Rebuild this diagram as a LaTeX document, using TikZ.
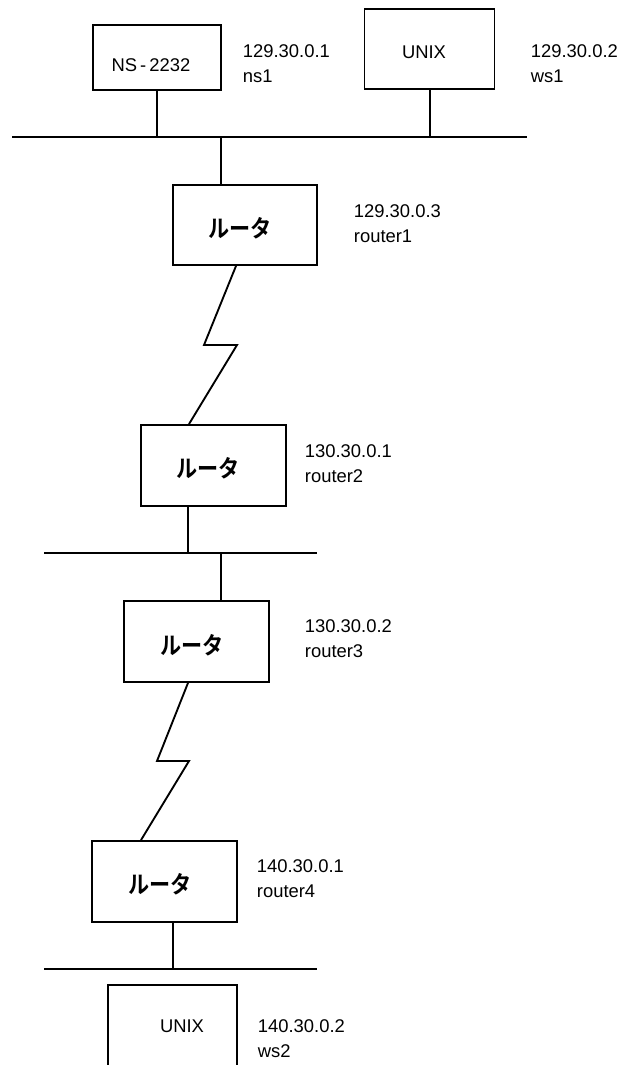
\documentclass[tikz,border=0pt]{standalone}
\usepackage{fontspec}
\setmainfont{Liberation Sans}
\newfontfamily\jpfont{Noto Sans CJK JP Bold}
\newcommand\pxu{0.75pt}
\newcommand\routerlabel{\scalebox{0.88}[1]{ルータ}}
\begin{document}
\begin{tikzpicture}[x=0.75pt,y=-0.75pt,line width=1.4pt,line join=miter]
\tikzset{
  hostbox/.style={draw,rectangle,inner sep=0pt},
  rtext/.style={font=\jpfont\fontsize{18}{18}\selectfont,inner sep=0pt},
  htext/.style={font=\fontsize{13.8}{16}\selectfont,inner sep=0pt},
  % two-line address label, placed by the baseline of its second line
  addr/.style={font=\fontsize{13.8}{18.75}\selectfont,align=left,anchor=base west,inner sep=0pt},
}
\useasboundingbox (0,0) rectangle (619,1065);

% ---- top segment: name server and workstation
\node[hostbox,minimum width=128*\pxu,minimum height=65*\pxu] (ns) at (157,57.5) {};
\node[htext] (nst) at (151,65) {NS\,-\,2232};
\node[addr] (nsa) at (242,82) {129.30.0.1\\ns1};
\node[hostbox,minimum width=130*\pxu,minimum height=80*\pxu] (ws1) at (429.5,49) {};
\node[htext] (ws1t) at (424,52) {UNIX};
\node[addr] (ws1a) at (530,82) {129.30.0.2\\ws1};
\coordinate (b1w) at (12,137);
\coordinate (b1e) at (527,137);
\draw (b1w) -- (b1e);
\coordinate (s0a) at (157,137);
\coordinate (s0b) at (430,137);
\draw (s0a |- ns.south) -- (s0a);
\draw (s0b |- ws1.south) -- (s0b);

% ---- router1
\node[hostbox,minimum width=144*\pxu,minimum height=80*\pxu] (r1) at (245,225) {};
\node[rtext] (r1t) at (240,228) {\routerlabel};
\node[addr] (r1a) at (353,242) {129.30.0.3\\router1};
\coordinate (s1) at (221,137);
\draw (s1) -- (s1 |- r1.north);

% ---- serial link router1 - router2
\node[hostbox,minimum width=145*\pxu,minimum height=81*\pxu] (r2) at (213.5,465.5) {};
\node[rtext] (r2t) at (208,468) {\routerlabel};
\node[addr] (r2a) at (304,482) {130.30.0.1\\router2};
\coordinate (z1a) at (236,265);
\coordinate (z1b) at (204,345);
\coordinate (z1c) at (237,345);
\coordinate (z1d) at (189,425);
\draw (z1a |- r1.south) -- (z1b) -- (z1c) -- (z1d |- r2.north);

% ---- middle segment
\coordinate (b2w) at (44,553);
\coordinate (b2e) at (317,553);
\draw (b2w) -- (b2e);
\coordinate (s2) at (188,553);
\draw (s2 |- r2.south) -- (s2);
\node[hostbox,minimum width=145*\pxu,minimum height=81*\pxu] (r3) at (196.5,641.5) {};
\node[rtext] (r3t) at (192,645) {\routerlabel};
\node[addr] (r3a) at (304,657) {130.30.0.2\\router3};
\coordinate (s3) at (221,553);
\draw (s3) -- (s3 |- r3.north);

% ---- serial link router3 - router4
\node[hostbox,minimum width=145*\pxu,minimum height=81*\pxu] (r4) at (164.5,881.5) {};
\node[rtext] (r4t) at (160,884) {\routerlabel};
\node[addr] (r4a) at (256,897) {140.30.0.1\\router4};
\coordinate (z2a) at (188,682);
\coordinate (z2b) at (157,761);
\coordinate (z2c) at (189,761);
\coordinate (z2d) at (141,841);
\draw (z2a |- r3.south) -- (z2b) -- (z2c) -- (z2d |- r4.north);

% ---- bottom segment
\coordinate (b3w) at (44,969);
\coordinate (b3e) at (317,969);
\draw (b3w) -- (b3e);
\coordinate (s4) at (173,969);
\draw (s4 |- r4.south) -- (s4);
\coordinate (u2bl) at (108,1068);
\coordinate (u2tr) at (237,985);
\draw (u2bl) |- (u2tr) -- (u2tr |- u2bl);
\node[htext] (ws2t) at (182,1026) {UNIX};
\node[addr] (ws2a) at (257,1057) {140.30.0.2\\ws2};
\end{tikzpicture}
\end{document}
